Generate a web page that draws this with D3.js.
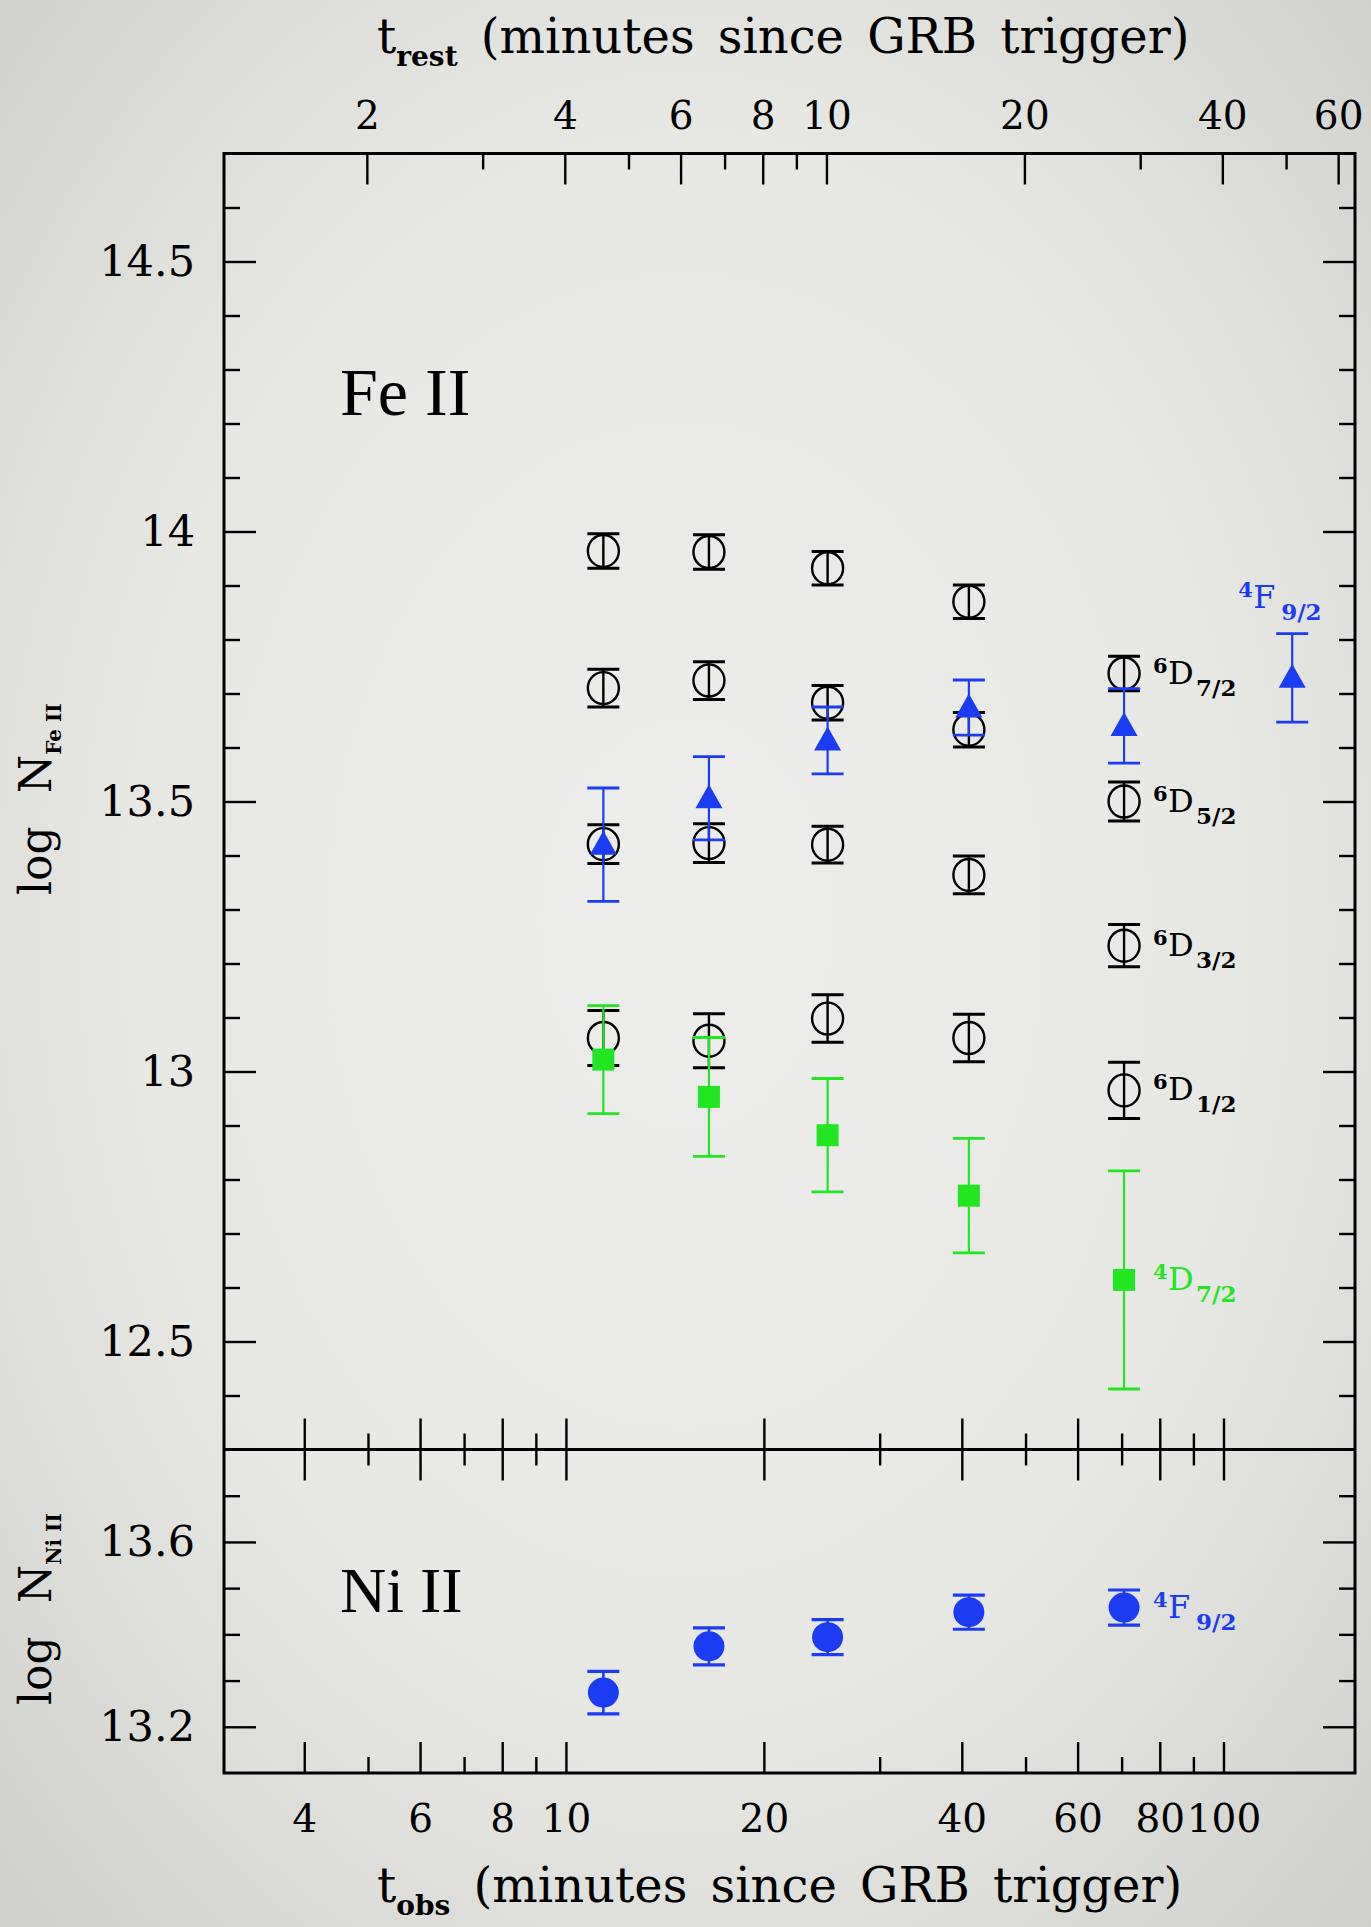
<!DOCTYPE html>
<html>
<head>
<meta charset="utf-8">
<script src="https://cdn.jsdelivr.net/npm/d3@7"></script>
<style>
  html, body { margin: 0; padding: 0; background: #e3e3e0; }
  svg { display: block; }
</style>
</head>
<body>
<svg id="chart" width="1371" height="1927"></svg>
<script>
// ---- Observation epochs (minutes since GRB trigger, observer frame) ----
const tObs = [11.4, 16.5, 25.0, 41.0, 70.6];
const tObsFe4F = [11.4, 16.5, 25.0, 41.0, 70.6, 127.2];
const onePlusZ = 2.49;

// ---- Fe II fine-structure levels: log column densities and 1-sigma errors ----
const fe6D72 = [13.964, 13.962, 13.932, 13.870, 13.737];
const fe6D72Err = [0.032, 0.032, 0.031, 0.031, 0.032];
const fe6D52 = [13.710, 13.724, 13.683, 13.633, 13.500];
const fe6D52Err = [0.035, 0.035, 0.032, 0.032, 0.036];
const fe6D32 = [13.421, 13.423, 13.420, 13.364, 13.233];
const fe6D32Err = [0.036, 0.036, 0.034, 0.035, 0.039];
const fe6D12 = [13.062, 13.057, 13.098, 13.062, 12.965];
const fe6D12Err = [0.051, 0.050, 0.044, 0.044, 0.052];
const fe4F92 = [13.420, 13.506, 13.613, 13.674, 13.640, 13.729];
const fe4F92Err = [0.105, 0.077, 0.062, 0.051, 0.069, 0.082];
const fe4D72 = [13.022, 12.953, 12.882, 12.770, 12.614];
const fe4D72Err = [0.100, 0.110, 0.105, 0.106, 0.202];

// ---- Ni II 4F9/2 ----
const ni4F92 = [13.274, 13.374, 13.394, 13.448, 13.458];
const ni4F92Err = [0.046, 0.040, 0.038, 0.037, 0.038];

// ---- Tick values ----
const obsMajor = [4, 6, 8, 10, 20, 40, 60, 80, 100];
const obsMinor = [5, 7, 9, 30, 50, 70, 90];
const restMajor = [2, 4, 6, 8, 10, 20, 40, 60];
const restMinor = [3, 5, 7, 9, 30, 50];
const feMajor = [12.5, 13, 13.5, 14, 14.5];
const feMinor = [12.4, 12.6, 12.7, 12.8, 12.9, 13.1, 13.2, 13.3, 13.4, 13.6, 13.7, 13.8, 13.9, 14.1, 14.2, 14.3, 14.4, 14.6];
const niMajor = [13.2, 13.6];
const niMinor = [13.3, 13.4, 13.5, 13.7];

// ---- Layout ----
const L = 224, R = 1355, TOP = 153.5, MID = 1449.5, BOT = 1773;
const BLUE = "#1c3cf4", GREEN = "#22e622", BLACK = "#000";
const SERIF = "'DejaVu Serif', serif";

const svg = d3.select("#chart");

// background with soft vignette
const defs = svg.append("defs");
const grad = defs.append("radialGradient").attr("id", "bg")
  .attr("cx", "50%").attr("cy", "48%").attr("r", "75%");
grad.append("stop").attr("offset", "0%").attr("stop-color", "#ededeb");
grad.append("stop").attr("offset", "55%").attr("stop-color", "#e7e7e4");
grad.append("stop").attr("offset", "100%").attr("stop-color", "#cdcec9");
svg.append("rect").attr("width", 1371).attr("height", 1927).attr("fill", "url(#bg)");

// ---- Scales ----
const x = d3.scaleLog().domain([Math.pow(10, 0.48), Math.pow(10, 2.2)]).range([L, R]);
const xRest = d3.scaleLog().domain(x.domain().map(v => v / onePlusZ)).range([L, R]);
const yFe = d3.scaleLinear().domain([12.3, 14.7]).range([MID, TOP]);
const yNi = d3.scaleLinear().domain([13.1, 13.8]).range([BOT, MID]);

// ---- Tick marks (inward) ----
function ticks(gen, scale, values, size, tx, ty, width) {
  svg.append("g").attr("transform", `translate(${tx},${ty})`)
    .call(gen(scale).tickValues(values).tickSize(size).tickFormat(""))
    .call(g => g.select(".domain").remove())
    .call(g => g.selectAll("line").attr("stroke", BLACK).attr("stroke-width", width));
}
const MAJ = 31, MIN = 16, TW = 2.4;
// top: rest-frame time
ticks(d3.axisTop, xRest, restMajor, -MAJ, 0, TOP, TW);
ticks(d3.axisTop, xRest, restMinor, -MIN, 0, TOP, TW);
// divider: observer-frame time, both directions
ticks(d3.axisTop, x, obsMajor, MAJ, 0, MID, TW);
ticks(d3.axisTop, x, obsMinor, MIN, 0, MID, TW);
ticks(d3.axisBottom, x, obsMajor, MAJ, 0, MID, TW);
ticks(d3.axisBottom, x, obsMinor, MIN, 0, MID, TW);
// bottom
ticks(d3.axisBottom, x, obsMajor, -MAJ, 0, BOT, TW);
ticks(d3.axisBottom, x, obsMinor, -MIN, 0, BOT, TW);
// Fe II panel y
ticks(d3.axisLeft, yFe, feMajor, -32, L, 0, TW);
ticks(d3.axisLeft, yFe, feMinor, -MIN, L, 0, TW);
ticks(d3.axisRight, yFe, feMajor, -32, R, 0, TW);
ticks(d3.axisRight, yFe, feMinor, -MIN, R, 0, TW);
// Ni II panel y
ticks(d3.axisLeft, yNi, niMajor, -32, L, 0, TW);
ticks(d3.axisLeft, yNi, niMinor, -MIN, L, 0, TW);
ticks(d3.axisRight, yNi, niMajor, -32, R, 0, TW);
ticks(d3.axisRight, yNi, niMinor, -MIN, R, 0, TW);

// ---- Frame ----
svg.append("rect").attr("x", L).attr("y", TOP).attr("width", R - L).attr("height", BOT - TOP)
  .attr("fill", "none").attr("stroke", BLACK).attr("stroke-width", 3);
svg.append("line").attr("x1", L).attr("x2", R).attr("y1", MID).attr("y2", MID)
  .attr("stroke", BLACK).attr("stroke-width", 3);

// ---- Tick labels ----
function labels(gen, scale, values, fmt, pad, tx, ty, size) {
  svg.append("g").attr("transform", `translate(${tx},${ty})`)
    .call(gen(scale).tickValues(values).tickSize(0).tickPadding(pad).tickFormat(fmt))
    .call(g => g.select(".domain").remove())
    .call(g => g.selectAll("text").attr("font-family", SERIF).attr("font-size", size).attr("fill", BLACK));
}
labels(d3.axisTop, xRest, restMajor, d3.format("d"), 25, 0, TOP, 39);
labels(d3.axisBottom, x, obsMajor, d3.format("d"), 31, 0, BOT, 39);
labels(d3.axisLeft, yFe, feMajor, d => String(d), 29, L, 0, 43);
labels(d3.axisLeft, yNi, niMajor, d => String(d), 29, L, 0, 43);

// ---- Axis titles ----
function timeTitle(y, sub) {
  const t = svg.append("text").attr("x", 377).attr("y", y)
    .attr("font-family", SERIF).attr("font-size", 48).attr("fill", BLACK)
    .style("word-spacing", "8px");
  t.append("tspan").text("t");
  t.append("tspan").attr("font-size", 28).attr("font-weight", "bold").attr("dy", 13).text(sub);
  t.append("tspan").attr("dy", -13).text(" (minutes since GRB trigger)");
}
timeTitle(53, "rest");
timeTitle(1902, "obs");

// rotated column-density titles, starting from the lower end
function yTitle(startY, sub) {
  const t = svg.append("text").attr("transform", `translate(51,${startY}) rotate(-90)`)
    .attr("text-anchor", "start").attr("font-family", SERIF).attr("font-size", 44).attr("fill", BLACK);
  t.append("tspan").text("log ");
  t.append("tspan").attr("dx", 19).text("N");
  t.append("tspan").attr("font-size", 20).attr("font-weight", "bold").attr("dy", 10).text(sub);
}
yTitle(895, "Fe II");
yTitle(1705, "Ni II");

// ---- Ion names ----
svg.append("text").attr("x", 340).attr("y", 415).attr("font-family", "'Liberation Serif', serif")
  .attr("font-size", 68).attr("fill", BLACK).text("Fe II");
svg.append("text").attr("x", 340).attr("y", 1612).attr("font-family", "'Liberation Serif', serif")
  .attr("font-size", 64).attr("fill", BLACK).text("Ni II");

// ---- Data marks ----
const CAP = 16;
function errorBars(g, ts, vals, errs, yScale, color, width) {
  const pts = ts.map((t, i) => ({ t, v: vals[i], e: errs[i] }));
  g.selectAll(null).data(pts).join("line")
    .attr("x1", d => x(d.t)).attr("x2", d => x(d.t))
    .attr("y1", d => yScale(d.v - d.e)).attr("y2", d => yScale(d.v + d.e))
    .attr("stroke", color).attr("stroke-width", width);
  ["-", "+"].forEach(s => {
    g.selectAll(null).data(pts).join("line")
      .attr("x1", d => x(d.t) - CAP).attr("x2", d => x(d.t) + CAP)
      .attr("y1", d => yScale(s === "-" ? d.v - d.e : d.v + d.e))
      .attr("y2", d => yScale(s === "-" ? d.v - d.e : d.v + d.e))
      .attr("stroke", color).attr("stroke-width", width + 0.6);
  });
  return pts;
}

// Fe II 6D levels: open circles
const feLevels = [[fe6D72, fe6D72Err], [fe6D52, fe6D52Err], [fe6D32, fe6D32Err], [fe6D12, fe6D12Err]];
const gBlack = svg.append("g");
feLevels.forEach(([vals, errs]) => {
  const pts = errorBars(gBlack, tObs, vals, errs, yFe, BLACK, 2.4);
  gBlack.selectAll(null).data(pts).join("ellipse")
    .attr("cx", d => x(d.t)).attr("cy", d => yFe(d.v))
    .attr("rx", 15.5).attr("ry", 16)
    .attr("fill", "none").attr("stroke", BLACK).attr("stroke-width", 2.4);
});

// Fe II 4F9/2: filled triangles
const gBlue = svg.append("g");
const triPts = errorBars(gBlue, tObsFe4F, fe4F92, fe4F92Err, yFe, BLUE, 2.2);
gBlue.selectAll(null).data(triPts).join("path")
  .attr("d", d => {
    const cx = x(d.t), cy = yFe(d.v);
    return `M${cx},${cy - 14}L${cx + 13.5},${cy + 10}L${cx - 13.5},${cy + 10}Z`;
  })
  .attr("fill", BLUE);

// Fe II 4D7/2: filled squares
const gGreen = svg.append("g");
const sqPts = errorBars(gGreen, tObs, fe4D72, fe4D72Err, yFe, GREEN, 2.2);
gGreen.selectAll(null).data(sqPts).join("rect")
  .attr("x", d => x(d.t) - 11).attr("y", d => yFe(d.v) - 11)
  .attr("width", 22).attr("height", 22).attr("fill", GREEN);

// Ni II 4F9/2: filled circles
const gNi = svg.append("g");
const niPts = errorBars(gNi, tObs, ni4F92, ni4F92Err, yNi, BLUE, 2.6);
gNi.selectAll(null).data(niPts).join("ellipse")
  .attr("cx", d => x(d.t)).attr("cy", d => yNi(d.v))
  .attr("rx", 15.5).attr("ry", 15).attr("fill", BLUE);

// ---- Level labels ----
function levelLabel(px, py, sup, main, sub, color, dx) {
  const g = svg.append("g").attr("fill", color).attr("font-family", SERIF);
  g.append("text").attr("x", px + dx).attr("y", py - 1).attr("font-size", 21).attr("font-weight", "bold").text(sup);
  g.append("text").attr("x", px + dx + 15).attr("y", py + 10).attr("font-size", 32).text(main);
  g.append("text").attr("x", px + dx + 43).attr("y", py + 22).attr("font-size", 23).attr("font-weight", "bold").text(sub);
}
const last = tObs.length - 1;
levelLabel(x(tObs[last]), yFe(fe6D72[last]), "6", "D", "7/2", BLACK, 29);
levelLabel(x(tObs[last]), yFe(fe6D52[last]), "6", "D", "5/2", BLACK, 29);
levelLabel(x(tObs[last]), yFe(fe6D32[last]), "6", "D", "3/2", BLACK, 29);
levelLabel(x(tObs[last]), yFe(fe6D12[last]), "6", "D", "1/2", BLACK, 29);
levelLabel(x(tObs[last]), yFe(fe4D72[last]), "4", "D", "7/2", GREEN, 29);
levelLabel(x(tObs[last]), yNi(ni4F92[last]), "4", "F", "9/2", BLUE, 29);
const lastF = tObsFe4F.length - 1;
levelLabel(x(tObsFe4F[lastF]), yFe(fe4F92[lastF]) - 80, "4", "F", "9/2", BLUE, -54);
</script>
</body>
</html>
